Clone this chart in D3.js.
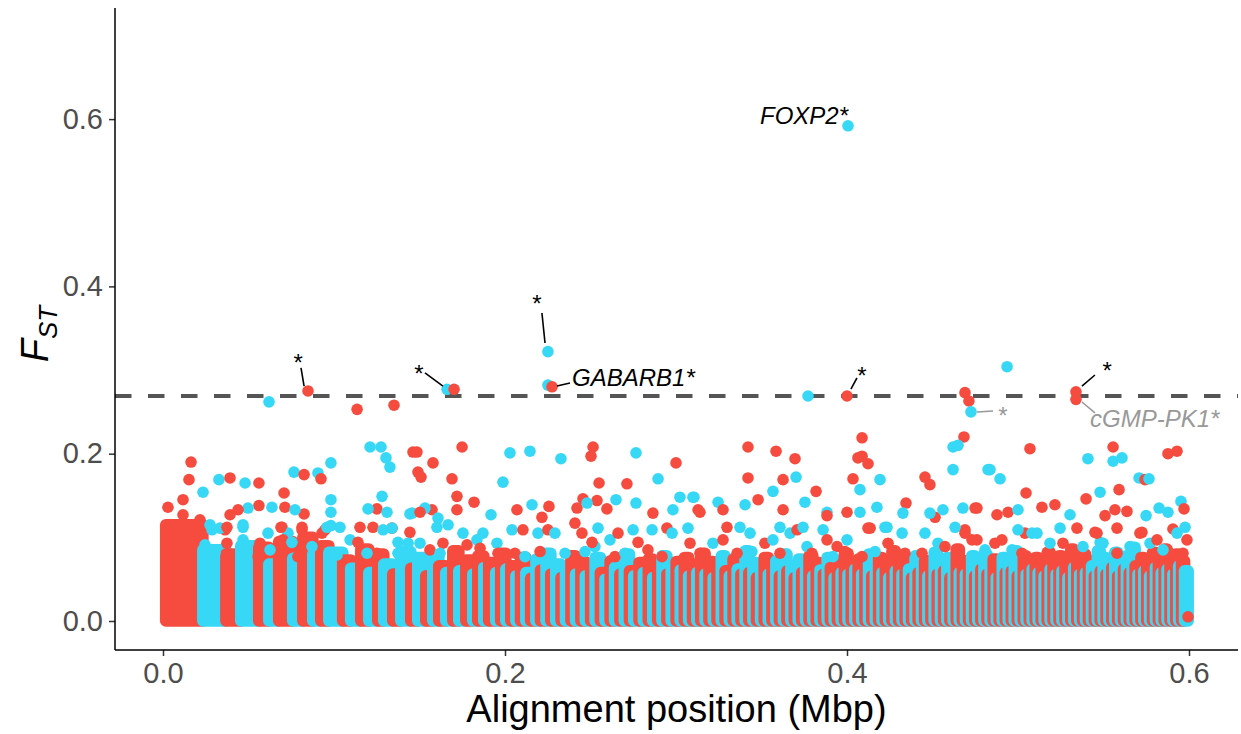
<!DOCTYPE html>
<html>
<head>
<meta charset="utf-8">
<script src="https://d3js.org/d3.v7.min.js"></script>
<style>
body { margin: 0; background: #fff; }
svg text { font-family: "Liberation Sans", Arial, sans-serif; }
</style>
</head>
<body>
<svg id="chart" width="1241" height="734"></svg>
<script>
// contig start positions along the alignment (Mbp); colour alternates by contig
var contigStart = [
  0.0016, 0.0233, 0.0368, 0.0455, 0.0560, 0.0619, 0.0677, 0.0759, 0.0818, 0.0876, 0.0923, 0.0970,
  0.1051, 0.1098, 0.1157, 0.1204, 0.1256, 0.1291, 0.1344, 0.1391, 0.1449, 0.1490, 0.1537, 0.1578,
  0.1613, 0.1654, 0.1695, 0.1730, 0.1771, 0.1812, 0.1841, 0.1876, 0.1905, 0.1946, 0.1975, 0.2005,
  0.2034, 0.2064, 0.2091, 0.2122, 0.2150, 0.2181, 0.2208, 0.2240, 0.2268, 0.2297,
  0.2328, 0.2354, 0.2386, 0.2413, 0.2444, 0.2470, 0.2501, 0.2527, 0.2558, 0.2585,
  0.2615, 0.2641, 0.2672, 0.2698, 0.2728, 0.2753, 0.2784, 0.2809, 0.2838, 0.2864,
  0.2893, 0.2918, 0.2947, 0.2972, 0.3001,
  0.3025, 0.3049, 0.3074, 0.3097, 0.3122, 0.3145, 0.3170, 0.3193, 0.3218, 0.3240,
  0.3265, 0.3287, 0.3312, 0.3334, 0.3358, 0.3380, 0.3404, 0.3426, 0.3450, 0.3471,
  0.3495, 0.3516, 0.3540, 0.3561, 0.3584, 0.3605, 0.3628, 0.3649, 0.3672, 0.3692,
  0.3715, 0.3735, 0.3758, 0.3778, 0.3800, 0.3820, 0.3842, 0.3862, 0.3884, 0.3903,
  0.3925, 0.3944, 0.3966, 0.3985, 0.4006, 0.4025, 0.4046,
  0.4065, 0.4086, 0.4105, 0.4126, 0.4145, 0.4166, 0.4185, 0.4205, 0.4224, 0.4244,
  0.4263, 0.4283, 0.4302, 0.4322, 0.4340, 0.4360, 0.4378, 0.4398, 0.4416, 0.4436,
  0.4454, 0.4473, 0.4491, 0.4510, 0.4528, 0.4547, 0.4565, 0.4584, 0.4602, 0.4621,
  0.4639, 0.4657, 0.4675, 0.4693, 0.4711, 0.4729, 0.4747, 0.4765, 0.4783, 0.4801,
  0.4819, 0.4837, 0.4855, 0.4873, 0.4890, 0.4908, 0.4926, 0.4943, 0.4961, 0.4978,
  0.4996, 0.5013, 0.5031, 0.5048, 0.5066, 0.5083,
  0.5101, 0.5118, 0.5136, 0.5153, 0.5171, 0.5188, 0.5205, 0.5223, 0.5240, 0.5257,
  0.5275, 0.5292, 0.5309, 0.5326, 0.5344, 0.5361, 0.5378, 0.5395, 0.5412, 0.5430,
  0.5447, 0.5464, 0.5481, 0.5498, 0.5515, 0.5532, 0.5549, 0.5566, 0.5583, 0.5600,
  0.5617, 0.5634, 0.5651, 0.5668, 0.5685, 0.5702, 0.5719, 0.5736, 0.5753, 0.5770,
  0.5787, 0.5804, 0.5821, 0.5838, 0.5855, 0.5872, 0.5889, 0.5906, 0.5923, 0.5940,
  0.5957, 0.5974
];
var alignmentEnd = 0.5995;

// upper edge of the dense block of SNPs in each contig (FST)
var contigTop = [
  0.115, 0.085, 0.080, 0.090, 0.088, 0.068, 0.095, 0.075, 0.100, 0.080, 0.090, 0.082,
  0.073, 0.063, 0.086, 0.058, 0.080, 0.068, 0.056, 0.083, 0.063, 0.076,
  0.054, 0.078, 0.066, 0.058, 0.084, 0.060, 0.073, 0.056, 0.078, 0.064, 0.070, 0.058, 0.081, 0.062,
  0.066, 0.054, 0.076, 0.058, 0.051, 0.074, 0.061, 0.081, 0.056, 0.068,
  0.052, 0.064, 0.078, 0.056, 0.071, 0.054, 0.062, 0.076, 0.058, 0.050,
  0.072, 0.064, 0.056, 0.080, 0.060, 0.054, 0.070, 0.058, 0.074, 0.052,
  0.066, 0.078, 0.056, 0.062, 0.071,
  0.061, 0.076, 0.054, 0.068, 0.058, 0.081, 0.056, 0.071, 0.052, 0.064,
  0.078, 0.060, 0.054, 0.074, 0.062, 0.056, 0.084, 0.058, 0.070, 0.052,
  0.066, 0.076, 0.056, 0.062, 0.072, 0.054, 0.080, 0.060, 0.066, 0.052,
  0.074, 0.058, 0.064, 0.078, 0.054, 0.070, 0.061, 0.056, 0.076, 0.064,
  0.052, 0.072, 0.058, 0.081, 0.056, 0.068, 0.062,
  0.074, 0.056, 0.066, 0.080, 0.054, 0.062, 0.076, 0.058, 0.070, 0.052,
  0.084, 0.060, 0.066, 0.056, 0.074, 0.062, 0.052, 0.078, 0.058, 0.068,
  0.072, 0.054, 0.064, 0.082, 0.056, 0.070, 0.060, 0.076, 0.052, 0.066,
  0.086, 0.058, 0.072, 0.056, 0.064, 0.078, 0.054, 0.070, 0.062, 0.080,
  0.056, 0.068, 0.074, 0.052, 0.064, 0.076, 0.058, 0.072, 0.060, 0.084,
  0.054, 0.066, 0.078, 0.056, 0.070, 0.062,
  0.076, 0.058, 0.072, 0.054, 0.082, 0.062, 0.068, 0.056, 0.078, 0.060,
  0.074, 0.052, 0.086, 0.064, 0.070, 0.056, 0.080, 0.058, 0.072, 0.066,
  0.054, 0.084, 0.060, 0.076, 0.056, 0.070, 0.064, 0.082, 0.054, 0.074,
  0.062, 0.078, 0.058, 0.088, 0.066, 0.056, 0.076, 0.060, 0.072, 0.054,
  0.082, 0.064, 0.070, 0.058, 0.086, 0.062, 0.074, 0.056, 0.080, 0.066,
  0.072, 0.060
];

// SNPs standing out of the dense blocks: [position (Mbp), FST, group 0 = red / 1 = cyan]
var snps = [
  [0.4006, 0.592, 1], [0.2251, 0.322, 1], [0.2251, 0.282, 1], [0.2275, 0.280, 0],
  [0.0620, 0.262, 1], [0.0848, 0.275, 0], [0.1135, 0.253, 0], [0.1351, 0.258, 0],
  [0.1661, 0.277, 1], [0.1702, 0.277, 0], [0.3772, 0.269, 1], [0.4000, 0.269, 0],
  [0.4690, 0.273, 0], [0.4713, 0.263, 0], [0.4725, 0.250, 1], [0.4936, 0.304, 1],
  [0.5339, 0.274, 0], [0.5339, 0.265, 0], [0.4088, 0.219, 0], [0.4684, 0.220, 0],
  [0.0164, 0.190, 0], [0.0152, 0.169, 0], [0.0117, 0.145, 0], [0.0029, 0.136, 0],
  [0.0117, 0.127, 0], [0.0234, 0.154, 1], [0.0327, 0.169, 1], [0.0392, 0.171, 0],
  [0.0480, 0.165, 1], [0.0561, 0.165, 0], [0.0708, 0.153, 0], [0.0766, 0.178, 1],
  [0.0825, 0.175, 0], [0.0906, 0.177, 1], [0.0924, 0.170, 0], [0.0982, 0.189, 1],
  [0.0982, 0.145, 1], [0.0561, 0.138, 0], [0.0713, 0.136, 0], [0.1211, 0.208, 1],
  [0.1275, 0.208, 1], [0.1304, 0.195, 1], [0.1327, 0.184, 1], [0.1462, 0.202, 0],
  [0.1281, 0.149, 1], [0.1251, 0.134, 0], [0.1199, 0.134, 1], [0.1310, 0.130, 1],
  [0.1444, 0.128, 1], [0.0825, 0.128, 0], [0.0982, 0.130, 1], [0.0497, 0.135, 1],
  [0.0637, 0.136, 1], [0.0772, 0.133, 1], [0.0982, 0.114, 1], [0.0947, 0.109, 0],
  [0.1339, 0.111, 0], [0.1444, 0.106, 0], [0.1433, 0.093, 1], [0.1374, 0.081, 1],
  [0.1251, 0.081, 0], [0.0392, 0.127, 0], [0.0439, 0.133, 0], [0.0216, 0.121, 0],
  [0.0287, 0.109, 1], [0.0363, 0.109, 0], [0.0468, 0.112, 1], [0.0696, 0.112, 0],
  [0.0731, 0.105, 1], [0.0813, 0.112, 0],
  [0.1485, 0.202, 0], [0.1491, 0.178, 0], [0.1509, 0.172, 0], [0.1579, 0.189, 0],
  [0.1690, 0.170, 0], [0.1749, 0.208, 0], [0.1719, 0.149, 0], [0.1719, 0.133, 0],
  [0.1819, 0.142, 0], [0.2029, 0.201, 1], [0.2146, 0.203, 1], [0.2327, 0.194, 1],
  [0.1988, 0.166, 1], [0.2515, 0.208, 0], [0.2503, 0.197, 0], [0.2766, 0.201, 1],
  [0.3000, 0.189, 0], [0.2550, 0.165, 0], [0.2713, 0.164, 0], [0.2895, 0.170, 1],
  [0.1918, 0.127, 1], [0.2070, 0.133, 0], [0.2257, 0.137, 0], [0.2158, 0.139, 1],
  [0.2456, 0.146, 0], [0.2538, 0.144, 0], [0.2649, 0.145, 1], [0.2766, 0.141, 1],
  [0.2596, 0.134, 0], [0.3023, 0.148, 1], [0.3099, 0.148, 1], [0.3129, 0.133, 0],
  [0.1456, 0.129, 1], [0.1573, 0.133, 0], [0.1532, 0.135, 1], [0.1608, 0.123, 1],
  [0.1503, 0.130, 0], [0.2216, 0.124, 0], [0.2421, 0.135, 0], [0.2480, 0.141, 1],
  [0.2865, 0.129, 0], [0.2982, 0.133, 1], [0.3070, 0.111, 1], [0.2947, 0.111, 0],
  [0.3421, 0.208, 0], [0.3585, 0.203, 0], [0.3696, 0.194, 0], [0.3421, 0.171, 0],
  [0.3702, 0.172, 1], [0.3626, 0.169, 0], [0.3567, 0.155, 1], [0.3819, 0.155, 0],
  [0.3105, 0.148, 1], [0.4088, 0.197, 0], [0.4064, 0.195, 0], [0.4123, 0.188, 0],
  [0.4035, 0.170, 0], [0.4076, 0.157, 1], [0.4193, 0.169, 1], [0.4456, 0.172, 0],
  [0.4485, 0.163, 0], [0.4620, 0.208, 1], [0.4649, 0.210, 1], [0.4620, 0.181, 1],
  [0.4825, 0.181, 1], [0.3480, 0.145, 0], [0.3754, 0.142, 1], [0.4345, 0.141, 0],
  [0.4760, 0.135, 0], [0.4678, 0.135, 1], [0.4175, 0.136, 1], [0.4000, 0.130, 0],
  [0.4076, 0.130, 1], [0.3246, 0.142, 1], [0.3140, 0.130, 0], [0.3275, 0.133, 0],
  [0.3404, 0.139, 1], [0.4327, 0.129, 1], [0.4515, 0.124, 0], [0.4561, 0.133, 1],
  [0.4485, 0.129, 1], [0.3626, 0.133, 0], [0.3883, 0.130, 1], [0.3883, 0.126, 0],
  [0.4135, 0.111, 0], [0.4234, 0.112, 1],
  [0.5070, 0.206, 0], [0.4836, 0.181, 1], [0.4895, 0.170, 1], [0.5409, 0.194, 1],
  [0.5556, 0.208, 0], [0.5556, 0.191, 1], [0.5608, 0.195, 1], [0.5877, 0.200, 0],
  [0.5930, 0.203, 0], [0.5708, 0.171, 1], [0.5743, 0.169, 0], [0.5766, 0.170, 1],
  [0.5591, 0.157, 0], [0.5480, 0.154, 1], [0.5398, 0.146, 0], [0.5047, 0.153, 0],
  [0.5953, 0.143, 1], [0.4749, 0.135, 0], [0.4877, 0.127, 0], [0.4942, 0.130, 0],
  [0.5000, 0.133, 1], [0.5140, 0.136, 0], [0.5216, 0.139, 0], [0.5304, 0.127, 1],
  [0.5509, 0.126, 0], [0.5567, 0.133, 0], [0.5637, 0.131, 0], [0.5825, 0.135, 1],
  [0.5877, 0.130, 1], [0.5971, 0.134, 0], [0.5977, 0.112, 1], [0.5906, 0.110, 0],
  [0.5749, 0.126, 1], [0.5725, 0.106, 0], [0.5041, 0.105, 0], [0.5082, 0.105, 1],
  [0.5246, 0.111, 1], [0.5345, 0.111, 0], [0.5450, 0.106, 0], [0.5480, 0.094, 1],
  [0.5579, 0.111, 0], [0.4690, 0.109, 0], [0.4760, 0.097, 0], [0.5988, 0.053, 1],
  [0.5994, 0.022, 1], [0.5994, 0.005, 0],
  // band just above the dense blocks
  [0.0275, 0.115, 1], [0.0333, 0.111, 1], [0.0246, 0.091, 1], [0.0304, 0.082, 1],
  [0.0374, 0.112, 0], [0.0374, 0.093, 0], [0.0468, 0.115, 1], [0.0468, 0.097, 1],
  [0.0468, 0.081, 1], [0.0567, 0.093, 0], [0.0556, 0.077, 0], [0.0614, 0.105, 1],
  [0.0626, 0.085, 1], [0.0690, 0.112, 0], [0.0702, 0.097, 0], [0.0754, 0.094, 1],
  [0.0813, 0.109, 0], [0.0789, 0.077, 0], [0.0871, 0.089, 1], [0.0930, 0.105, 0],
  [0.0959, 0.112, 1],
  [0.1035, 0.112, 1], [0.1152, 0.112, 0], [0.1094, 0.097, 1], [0.1140, 0.094, 0],
  [0.1228, 0.112, 0], [0.1287, 0.109, 1], [0.1339, 0.111, 1], [0.1374, 0.094, 1],
  [0.1018, 0.079, 1], [0.1193, 0.081, 1], [0.1503, 0.093, 1], [0.1561, 0.085, 0],
  [0.1637, 0.093, 0], [0.1602, 0.112, 1], [0.1667, 0.115, 1], [0.1620, 0.081, 1],
  [0.1696, 0.073, 0], [0.1754, 0.105, 1], [0.1778, 0.091, 0], [0.1836, 0.097, 1],
  [0.1871, 0.105, 1], [0.1854, 0.087, 0], [0.1953, 0.093, 1], [0.1959, 0.081, 0],
  [0.2041, 0.109, 1], [0.2105, 0.109, 0], [0.2193, 0.105, 1], [0.2251, 0.109, 0],
  [0.2292, 0.105, 1], [0.2409, 0.117, 0], [0.2450, 0.105, 0], [0.2544, 0.111, 1],
  [0.2526, 0.089, 1], [0.2509, 0.094, 0], [0.2614, 0.097, 1], [0.2661, 0.105, 0],
  [0.2749, 0.109, 1], [0.2778, 0.094, 0], [0.2836, 0.085, 0], [0.2860, 0.109, 1],
  [0.2977, 0.105, 1], [0.2058, 0.081, 0], [0.2205, 0.083, 0], [0.2117, 0.077, 1],
  [0.2351, 0.081, 1], [0.2409, 0.073, 0], [0.2468, 0.083, 1], [0.2643, 0.077, 0],
  [0.2702, 0.081, 1], [0.2918, 0.077, 0],
  [0.3082, 0.093, 0], [0.3140, 0.081, 0], [0.3216, 0.093, 1], [0.3275, 0.097, 0],
  [0.3298, 0.112, 0], [0.3374, 0.112, 1], [0.3433, 0.105, 1], [0.3357, 0.081, 0],
  [0.3444, 0.083, 1], [0.3520, 0.093, 0], [0.3567, 0.097, 1], [0.3608, 0.112, 1],
  [0.3608, 0.081, 0], [0.3667, 0.105, 1], [0.3708, 0.109, 0], [0.3743, 0.112, 1],
  [0.3766, 0.089, 1], [0.3795, 0.081, 0], [0.3860, 0.109, 1], [0.3883, 0.097, 0],
  [0.3942, 0.089, 0], [0.3918, 0.077, 1], [0.4000, 0.097, 1], [0.3988, 0.083, 0],
  [0.4123, 0.111, 0], [0.4222, 0.112, 1], [0.4088, 0.077, 0], [0.4164, 0.083, 1],
  [0.4240, 0.093, 0], [0.4322, 0.105, 1], [0.4339, 0.081, 0], [0.4456, 0.105, 1],
  [0.4439, 0.081, 0], [0.4532, 0.093, 1], [0.4573, 0.089, 0], [0.4632, 0.112, 1],
  [0.4690, 0.105, 0], [0.4731, 0.097, 0], [0.4807, 0.085, 1], [0.4865, 0.093, 0],
  [0.4906, 0.097, 0], [0.4965, 0.085, 1], [0.5023, 0.081, 0], [0.5000, 0.109, 1],
  [0.5111, 0.105, 1], [0.5187, 0.093, 1], [0.5263, 0.093, 0], [0.5322, 0.081, 0],
  [0.5380, 0.089, 1], [0.5462, 0.105, 0], [0.5497, 0.093, 1], [0.5579, 0.081, 0],
  [0.5655, 0.089, 1], [0.5713, 0.105, 0], [0.5772, 0.093, 1], [0.5813, 0.097, 0],
  [0.5889, 0.081, 0], [0.5848, 0.085, 1], [0.5930, 0.105, 1], [0.5965, 0.081, 0],
  [0.5988, 0.097, 0]
];

var threshold = 0.269;
var xTicks = [0, 0.2, 0.4, 0.6];
var yTicks = [0, 0.2, 0.4, 0.6];

// gene labels (sig = significant, drawn black; else grey) and their leader segments
var labels = [
  {text: "*", pos: 0.0784, fst: 0.2989, sig: true, anchor: "middle", seg: [0.0807, 0.3025, 0.0825, 0.2809]},
  {text: "*", pos: 0.1491, fst: 0.2857, sig: true, anchor: "middle", seg: [0.1532, 0.2965, 0.1637, 0.2809]},
  {text: "*", pos: 0.2181, fst: 0.3694, sig: true, anchor: "middle", seg: [0.2216, 0.3682, 0.2234, 0.3323]},
  {text: "GABARB1*", pos: 0.2392, fst: 0.2809, sig: true, anchor: "start", seg: [0.2304, 0.2809, 0.2380, 0.2845]},
  {text: "FOXP2*", pos: 0.4006, fst: 0.5941, sig: true, anchor: "end", seg: null},
  {text: "*", pos: 0.4082, fst: 0.2833, sig: true, anchor: "middle", seg: [0.4058, 0.2905, 0.4023, 0.2773]},
  {text: "*", pos: 0.4906, fst: 0.2355, sig: false, anchor: "middle", seg: [0.4760, 0.2498, 0.4854, 0.2510]},
  {text: "*", pos: 0.5515, fst: 0.2893, sig: true, anchor: "middle", seg: [0.5450, 0.2941, 0.5374, 0.2809]},
  {text: "cGMP-PK1*", pos: 0.5421, fst: 0.2319, sig: false, anchor: "start", seg: [0.5374, 0.2618, 0.5450, 0.2487]}
];

var colours = ["#F54C3F", "#37D8F6"];
var r = 5.8;

// panel edges
var panel = {left: 115, right: 1238, top: 8, bottom: 650};

var svg = d3.select("#chart");

var x = d3.scaleLinear().domain([0, 0.6]).range([163, 1189]);
var y = d3.scaleLinear().domain([0, 0.6]).range([621, 119.1]);

// threshold line
svg.append("line")
  .attr("x1", panel.left)
  .attr("x2", panel.right)
  .attr("y1", y(threshold))
  .attr("y2", y(threshold))
  .attr("stroke", "#555555")
  .attr("stroke-width", 4)
  .attr("stroke-dasharray", "16.5,16.5");

// dense blocks of SNPs, one per contig
var contigs = contigStart.map(function(s, i) {
  var e = i < contigStart.length - 1 ? contigStart[i + 1] : alignmentEnd;
  return {start: s, end: e, top: contigTop[i], grp: i % 2};
});

svg.append("g").selectAll("rect")
  .data(contigs)
  .enter()
  .append("rect")
  .attr("x", d => x(d.start) - r)
  .attr("width", d => x(d.end) - x(d.start) + 2 * r)
  .attr("y", d => y(d.top) - r)
  .attr("height", d => y(0) - y(d.top) + 2 * r)
  .attr("rx", r)
  .attr("fill", d => colours[d.grp]);

// outlying SNPs
svg.append("g").selectAll("circle")
  .data(snps)
  .enter()
  .append("circle")
  .attr("cx", d => x(d[0]))
  .attr("cy", d => y(d[1]))
  .attr("r", r)
  .attr("fill", d => colours[d[2]]);

// labels
var lab = svg.append("g");
lab.selectAll("line")
  .data(labels.filter(d => d.seg))
  .enter()
  .append("line")
  .attr("x1", d => x(d.seg[0]))
  .attr("y1", d => y(d.seg[1]))
  .attr("x2", d => x(d.seg[2]))
  .attr("y2", d => y(d.seg[3]))
  .attr("stroke", d => d.sig ? "#000" : "#999")
  .attr("stroke-width", 1.6);

lab.selectAll("text")
  .data(labels)
  .enter()
  .append("text")
  .attr("x", d => x(d.pos))
  .attr("y", d => y(d.fst))
  .attr("text-anchor", d => d.anchor)
  .attr("font-style", "italic")
  .attr("font-size", 24)
  .attr("fill", d => d.sig ? "#000" : "#999")
  .text(d => d.text);

// axes
var yAxis = svg.append("g")
  .attr("transform", `translate(${panel.left},0)`)
  .call(d3.axisLeft(y).tickValues(yTicks).tickFormat(d3.format(".1f")).tickSize(6).tickPadding(6));
var xAxis = svg.append("g")
  .attr("transform", `translate(0,${panel.bottom})`)
  .call(d3.axisBottom(x).tickValues(xTicks).tickFormat(d3.format(".1f")).tickSize(6).tickPadding(6));

[xAxis, yAxis].forEach(function(ax) {
  ax.select(".domain").remove();
  ax.selectAll(".tick line").attr("stroke", "#333").attr("stroke-width", 1.5);
  ax.selectAll(".tick text")
    .attr("font-size", 29)
    .attr("fill", "#4D4D4D")
    .style("font-family", "'Liberation Sans', Arial, sans-serif");
});

svg.append("line")
  .attr("x1", panel.left).attr("x2", panel.left)
  .attr("y1", panel.top).attr("y2", panel.bottom)
  .attr("stroke", "#000").attr("stroke-width", 1.5);
svg.append("line")
  .attr("x1", panel.left).attr("x2", panel.right)
  .attr("y1", panel.bottom).attr("y2", panel.bottom)
  .attr("stroke", "#000").attr("stroke-width", 1.5);

// axis titles
svg.append("text")
  .attr("x", (panel.left + panel.right) / 2)
  .attr("y", 722)
  .attr("text-anchor", "middle")
  .attr("font-size", 38)
  .attr("fill", "#000")
  .text("Alignment position (Mbp)");

var yTitle = svg.append("text")
  .attr("transform", "translate(48,334) rotate(-90)")
  .attr("text-anchor", "middle")
  .attr("font-style", "italic")
  .attr("fill", "#000");
yTitle.append("tspan").attr("font-size", 38).text("F");
yTitle.append("tspan").attr("font-size", 26).attr("dy", 9).text("ST");
</script>
</body>
</html>
